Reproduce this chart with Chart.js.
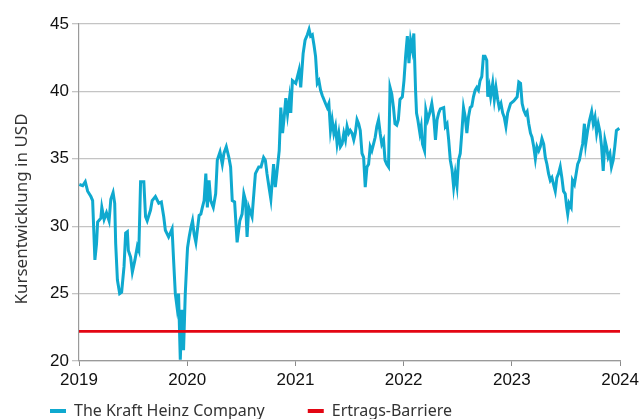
<!DOCTYPE html>
<html>
<head>
<meta charset="utf-8">
<script src="https://cdn.jsdelivr.net/npm/chart.js@4/dist/chart.umd.min.js"></script>
<style>
html,body{margin:0;padding:0;background:#fff;}
#wrap{width:643px;height:419px;}
</style>
</head>
<body>
<div id="wrap"><canvas id="c" width="643" height="419"></canvas></div>
<script>
// Decimal-year dates and closing prices (USD)
const dates = [
2019.003,2019.034,2019.058,2019.080,2019.110,2019.126,2019.147,2019.162,2019.172,2019.202,
2019.211,2019.232,2019.254,2019.278,2019.294,2019.315,2019.330,2019.339,2019.355,2019.376,
2019.394,2019.416,2019.431,2019.447,2019.456,2019.477,2019.493,2019.517,2019.539,2019.553,
2019.569,2019.599,2019.615,2019.630,2019.661,2019.676,2019.706,2019.737,2019.761,2019.783,
2019.798,2019.828,2019.860,2019.874,2019.890,2019.906,2019.920,2019.936,2019.951,2019.966,
2019.982,2019.997,
2020.003,2020.018,2020.034,2020.049,2020.064,2020.080,2020.110,2020.126,2020.140,2020.156,
2020.172,2020.186,2020.202,2020.217,2020.241,2020.263,2020.278,2020.303,2020.324,2020.339,
2020.361,2020.385,2020.401,2020.416,2020.438,2020.461,2020.486,2020.507,2020.523,2020.539,
2020.553,2020.569,2020.599,2020.630,2020.661,2020.682,2020.706,2020.722,2020.737,2020.752,
2020.773,2020.798,2020.814,2020.828,2020.850,2020.865,2020.881,2020.896,2020.911,2020.927,
2020.945,2020.957,2020.972,
2021.003,2021.034,2021.049,2021.071,2021.089,2021.110,2021.126,2021.140,2021.156,2021.172,
2021.186,2021.202,2021.217,2021.232,2021.248,2021.263,2021.278,2021.294,2021.309,2021.324,
2021.339,2021.355,2021.370,2021.385,2021.401,2021.416,2021.431,2021.447,2021.462,2021.477,
2021.493,2021.507,2021.523,2021.539,2021.553,2021.569,2021.584,2021.599,2021.615,2021.630,
2021.645,2021.661,2021.676,2021.691,2021.706,2021.722,2021.737,2021.752,2021.768,2021.783,
2021.798,2021.814,2021.828,2021.844,2021.860,2021.874,2021.890,2021.906,2021.920,2021.936,
2021.951,2021.966,2021.988,
2022.003,2022.018,2022.034,2022.049,2022.064,2022.080,2022.094,2022.110,2022.119,2022.131,
2022.150,2022.162,2022.174,2022.193,2022.205,2022.223,2022.241,2022.260,2022.278,2022.294,
2022.309,2022.324,2022.339,2022.370,2022.385,2022.401,2022.416,2022.431,2022.447,2022.462,
2022.477,2022.493,2022.507,2022.523,2022.539,2022.553,2022.569,2022.584,2022.599,2022.615,
2022.630,2022.645,2022.661,2022.676,2022.691,2022.706,2022.722,2022.737,2022.752,2022.768,
2022.777,2022.792,2022.804,2022.823,2022.838,2022.853,2022.869,2022.883,2022.899,2022.915,
2022.929,2022.945,2022.961,2022.988,
2023.018,2023.049,2023.064,2023.080,2023.095,2023.110,2023.126,2023.141,2023.156,2023.172,
2023.186,2023.202,2023.217,2023.232,2023.248,2023.263,2023.278,2023.294,2023.309,2023.324,
2023.339,2023.355,2023.370,2023.385,2023.401,2023.416,2023.431,2023.447,2023.462,2023.477,
2023.493,2023.507,2023.516,2023.529,2023.548,2023.560,2023.578,2023.594,2023.608,2023.624,
2023.640,2023.654,2023.670,2023.682,2023.700,2023.716,2023.737,2023.752,2023.768,2023.783,
2023.798,2023.814,2023.829,2023.844,2023.860,2023.874,2023.890,2023.906,2023.920,2023.936,
2023.951,2023.966,2023.982,2023.991
];
const prices = [
33.1,33.0,33.3,32.6,32.2,31.9,27.5,28.7,30.3,30.6,
31.4,30.5,31.0,30.4,32.0,32.5,31.7,28.7,26.0,25.0,
25.1,27.0,29.5,29.6,28.2,27.7,26.6,27.5,28.5,28.2,
33.3,33.3,30.7,30.4,31.2,31.9,32.2,31.7,31.8,30.7,
29.7,29.2,29.8,27.5,25.0,24.0,25.0,20.1,23.8,20.8,
25.0,27.5,
28.4,29.2,29.9,30.4,29.4,28.8,30.8,30.9,31.4,31.9,
33.9,31.4,33.4,31.9,31.4,32.4,34.9,35.5,34.6,35.4,
35.9,35.1,34.4,31.9,31.8,28.8,30.4,30.9,32.4,31.9,
29.2,31.4,30.7,33.9,34.4,34.4,35.1,34.9,33.9,33.1,
32.0,34.6,32.9,33.9,35.6,38.8,36.9,38.1,39.5,38.3,
39.5,38.4,40.8,
40.6,41.6,40.3,42.8,43.8,44.2,44.6,44.1,44.2,43.4,
42.6,40.6,40.8,40.1,39.7,39.4,39.1,38.8,39.1,37.1,
37.9,36.9,37.4,36.1,36.9,35.9,36.1,36.9,36.4,37.4,
36.9,37.1,36.9,36.4,36.9,37.9,37.6,37.1,35.4,35.1,
32.9,34.4,34.6,35.9,35.6,36.1,36.6,37.4,37.9,36.9,
36.1,36.4,34.9,34.6,34.4,40.3,39.8,38.8,37.6,37.5,
37.9,39.4,39.6,
40.8,42.6,44.1,42.1,43.8,43.1,44.3,40.1,38.4,37.9,
36.9,37.4,36.1,35.6,38.6,37.9,38.4,39.1,38.1,36.4,
37.9,38.4,38.7,38.8,37.4,37.6,36.4,34.9,34.2,32.9,
33.9,33.0,34.9,35.4,37.1,38.8,38.1,36.9,38.1,38.8,
38.9,39.6,40.1,40.3,40.1,40.8,41.1,42.6,42.6,42.3,
39.6,40.3,39.6,40.6,39.4,40.3,39.4,38.8,39.1,38.4,
38.1,37.4,38.4,39.1,
39.3,39.6,40.7,40.6,39.1,38.6,38.3,38.5,37.6,36.9,
36.6,35.9,35.0,35.9,35.6,35.9,36.5,36.1,35.1,34.6,
33.9,33.4,33.6,33.1,32.6,33.6,33.9,34.4,33.6,32.6,
32.4,31.4,30.9,31.7,31.4,33.4,33.1,33.9,34.6,34.9,
35.6,36.1,37.6,36.1,37.1,37.8,38.5,37.6,38.1,36.9,
37.6,37.0,35.9,34.1,36.4,35.9,35.1,35.4,34.4,34.9,
35.9,37.1,37.2,37.1
];
const barrierLevel = 22.2;
const barrierDates = [2019, 2024];
const seriesNames = ['The Kraft Heinz Company', 'Ertrags-Barriere'];
const yTitle = 'Kursentwicklung in USD';

const cyan = '#0fa9cf';
const red = '#e30613';

const LEG_FONT = 16, LEG_PAD = 43, X_H = 36;
const legendH = LEG_FONT + LEG_PAD + 10;

const legendShift = {
  id: 'legendShift',
  afterLayout(chart) {
    const lg = chart.legend;
    if (!lg) return;
    const h = lg.bottom - lg.top, w = lg.right - lg.left;
    lg.left = 50 - LEG_PAD; lg.right = lg.left + w;
    lg.top = 411 - LEG_FONT / 2 - LEG_PAD; lg.bottom = lg.top + h;
  }
};

const yTitlePlugin = {
  id: 'yTitlePlugin',
  afterDraw(chart) {
    const ctx = chart.ctx;
    ctx.save();
    ctx.translate(22, 209);
    ctx.rotate(-Math.PI / 2);
    ctx.fillStyle = '#333';
    ctx.font = '17px "Noto Sans"';
    ctx.textAlign = 'center';
    ctx.textBaseline = 'middle';
    ctx.fillText(yTitle, 0, 0);
    ctx.restore();
  }
};

new Chart(document.getElementById('c'), {
  type: 'line',
  data: {
    datasets: [
      {
        label: seriesNames[0],
        data: dates.map((d, i) => ({x: d, y: prices[i]})),
        borderColor: cyan,
        backgroundColor: cyan,
        borderWidth: 3,
        pointRadius: 0,
        tension: 0,
        order: 1
      },
      {
        label: seriesNames[1],
        data: barrierDates.map(d => ({x: d, y: barrierLevel})),
        borderColor: red,
        backgroundColor: red,
        borderWidth: 2.6,
        pointRadius: 0,
        order: 0
      }
    ]
  },
  options: {
    responsive: false,
    animation: false,
    events: [],
    layout: {padding: {left: 0, right: 19.5, top: 24, bottom: 419 - 361 - X_H - legendH}},
    plugins: {
      tooltip: {enabled: false},
      legend: {
        position: 'bottom',
        align: 'start',
        labels: {
          boxWidth: 16,
          boxHeight: 4,
          padding: LEG_PAD,
          color: '#333',
          font: {family: 'Noto Sans', size: LEG_FONT},
          sort: (a, b) => a.datasetIndex - b.datasetIndex,
          generateLabels: (chart) => Chart.defaults.plugins.legend.labels.generateLabels(chart).map(l => Object.assign(l, {lineWidth: 0}))
        }
      }
    },
    scales: {
      x: {
        type: 'linear',
        min: 2019,
        max: 2024,
        afterFit: (s) => { s.height = X_H; },
        ticks: {
          stepSize: 1,
          precision: 0,
          padding: 4,
          maxRotation: 0,
          color: '#111',
          font: {family: 'Liberation Sans', size: 17},
          callback: (v) => String(v)
        },
        grid: {drawOnChartArea: false, tickLength: 5, color: '#8a8a8a', lineWidth: 1},
        border: {color: '#9a9a9a', width: 1.2}
      },
      y: {
        min: 20,
        max: 45,
        afterFit: (s) => { s.width = 79; },
        ticks: {
          stepSize: 5,
          padding: 3,
          color: '#111',
          font: {family: 'Liberation Sans', size: 17}
        },
        grid: {color: '#c4c4c4', lineWidth: 1.3, tickLength: 7},
        border: {color: '#9a9a9a', width: 1.2},
        title: {display: false, text: yTitle}
      }
    }
  },
  plugins: [legendShift, yTitlePlugin]
});
</script>
</body>
</html>
